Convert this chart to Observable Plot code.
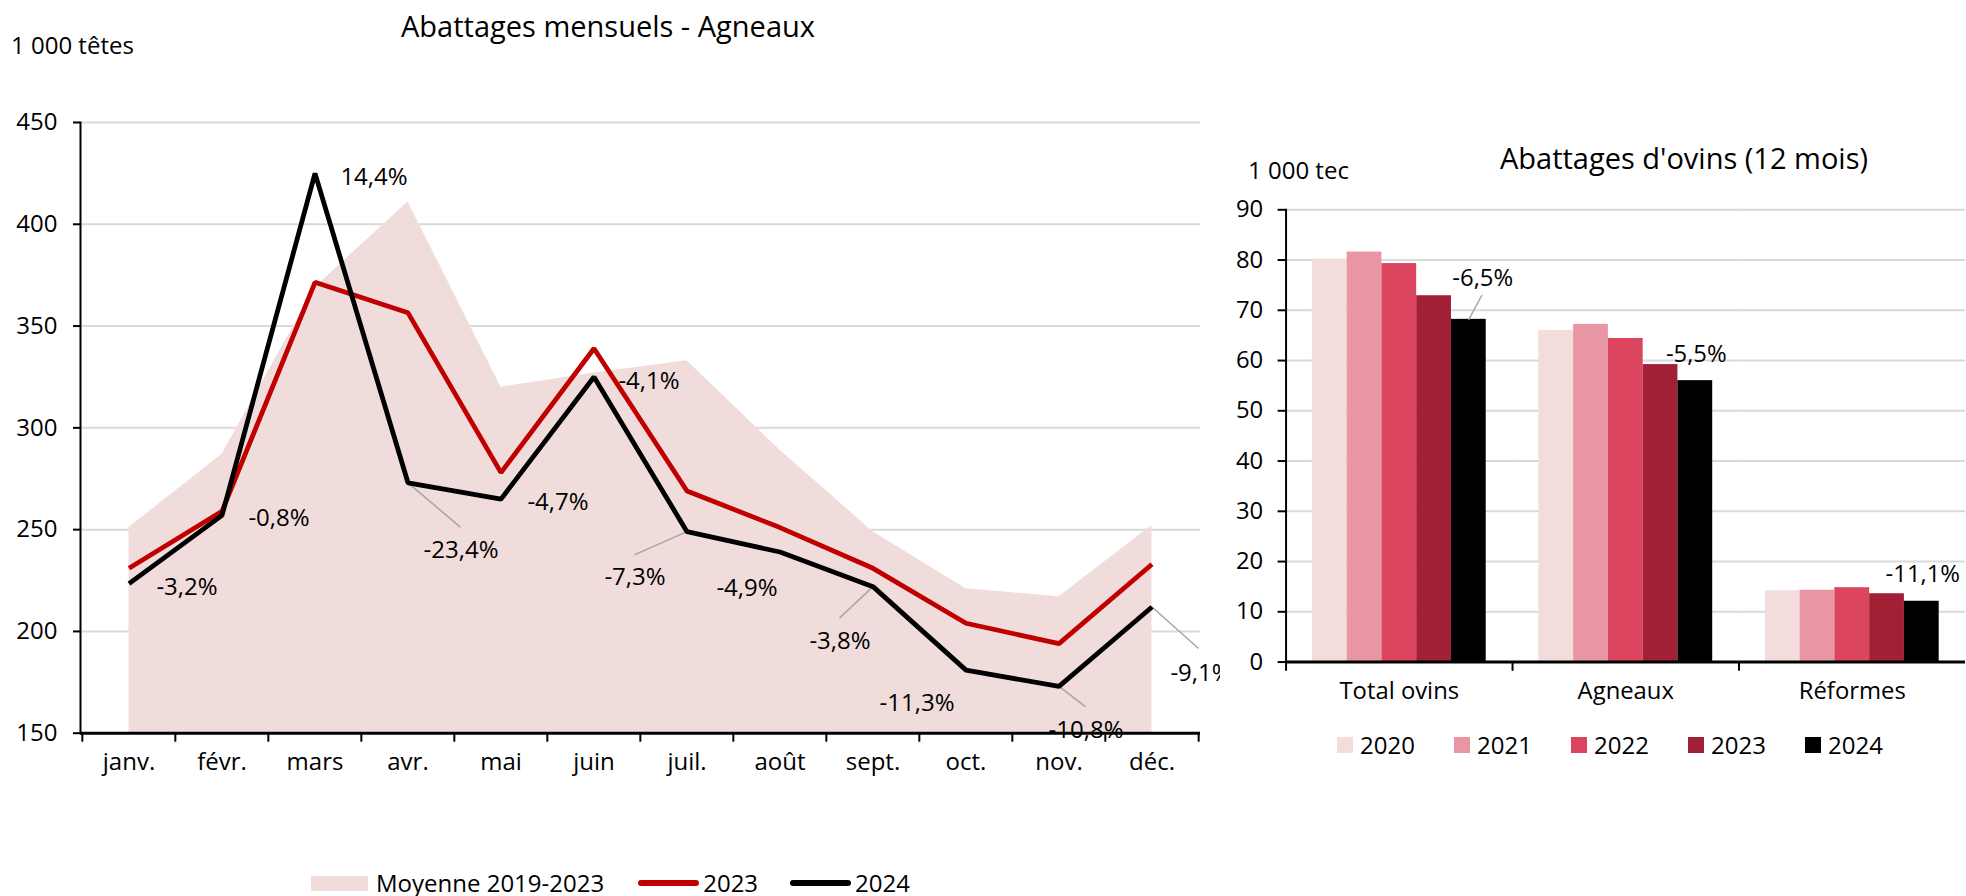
<!DOCTYPE html>
<html>
<head>
<meta charset="utf-8">
<script src="https://cdn.jsdelivr.net/npm/d3@7"></script>
<script src="https://cdn.jsdelivr.net/npm/@observablehq/plot@0.6"></script>
<style>
  html, body { margin: 0; padding: 0; background: #fff; }
  body { width: 1966px; height: 896px; overflow: hidden; position: relative; font-family: "Open Sans", sans-serif; color: #000; }
  .abs { position: absolute; white-space: nowrap; line-height: 1; }
  #left { position: absolute; left: 0; top: 0; }
  #right { position: absolute; left: 1220px; top: 0; background: #fff; }
  .leg { position: absolute; display: flex; align-items: center; font-size: 24px; line-height: 1; white-space: nowrap; }
</style>
</head>
<body>
<div id="left"></div>
<div id="right"></div>
<script>
// ---------- Data: monthly lamb slaughter (1 000 têtes) ----------
const months = ["janv.", "févr.", "mars", "avr.", "mai", "juin", "juil.", "août", "sept.", "oct.", "nov.", "déc."];
const moyenne = [251, 287, 369, 411, 320, 327, 333, 289, 249, 221, 217, 252];
const values2023 = [231, 259, 371.5, 356.5, 278, 339, 269, 251, 231, 204, 194, 233];
const values2024 = [223.5, 257, 425, 273, 265, 325, 249, 239, 222, 181, 173, 212];
const evolLabels = ["-3,2%", "-0,8%", "14,4%", "-23,4%", "-4,7%", "-4,1%", "-7,3%", "-4,9%", "-3,8%", "-11,3%", "-10,8%", "-9,1%"];
const yTicksLeft = [150, 200, 250, 300, 350, 400, 450];

// ---------- Data: sheep slaughter 12 months (1 000 tec) ----------
const categories = ["Total ovins", "Agneaux", "Réformes"];
const years = ["2020", "2021", "2022", "2023", "2024"];
const totalOvins = [80.2, 81.6, 79.3, 72.9, 68.2];
const agneaux = [66.0, 67.2, 64.4, 59.2, 56.0];
const reformes = [14.2, 14.3, 14.8, 13.6, 12.1];
const barLabels = ["-6,5%", "-5,5%", "-11,1%"];
const yTicksRight = [0, 10, 20, 30, 40, 50, 60, 70, 80, 90];

// ---------- Styles / layout ----------
const avgFill = "#f1dcdc";
const red = "#c00000";
const gridColor = "#d9d9d9";
const leaderColor = "#a6a6a6";
const barColors = ["#f2dcdc", "#e996a4", "#db455e", "#a12036", "#000000"];
const FS = 24;

// label offsets (px) relative to the 2024 point, and leader-line ends
const labelOffsets = [[58, 4], [57, 3], [59, 4], [53, 67], [57, 3], [55, 4], [-52, 46], [-33, 36], [-33, 55], [-49, 33], [27, 44], [49, 66]];
const leaderEnds = {3: [52, 44], 6: [-52, 23], 8: [-33, 31], 10: [26, 20], 11: [46, 41]};
const barLabelOffsets = [[14, -41], [1, -26], [1, -27]];
const barLeaderEnds = {0: [13, -24]};

const lineShape = {draw(ctx, l) { ctx.moveTo(0, 0); ctx.lineTo(0, -l); }};
function leader(data, x, y, end, extra = {}) {
  const [dx, dy] = end;
  return Plot.vector(data, {
    x, y, ...extra,
    length: Math.hypot(dx, dy),
    rotate: Math.atan2(dx, -dy) * 180 / Math.PI,
    anchor: "start", shape: lineShape,
    stroke: leaderColor, strokeWidth: 1.5
  });
}

// ---------- Left chart ----------
const W1 = 1230, H1 = 800, mL1 = 80, mR1 = 30, mT1 = 122, mB1 = H1 - 732.7;
const step1 = (W1 - mL1 - mR1) / months.length;
const lineData = months.map((m, i) => ({month: m, avg: moyenne[i], v23: values2023[i], v24: values2024[i], lab: evolLabels[i]}));

const leftMarks = [
  Plot.gridY(yTicksLeft.filter(t => t > 150), {stroke: gridColor, strokeOpacity: 1, strokeWidth: 2}),
  Plot.areaY(lineData, {x: "month", y1: 150, y2: "avg", fill: avgFill}),
  Plot.ruleY([150], {stroke: "#000", strokeWidth: 3}),
  Plot.frame({anchor: "left", stroke: "#000", strokeWidth: 2}),
  Plot.axisY({ticks: yTicksLeft, tickSize: 7, tickPadding: 16, fontSize: FS, strokeWidth: 2, tickFormat: d => d, label: null}),
  Plot.axisX({ticks: months, tickSize: 9, tickFormat: () => "", dx: -step1 / 2, strokeWidth: 2, label: null}),
  Plot.axisX({ticks: [months[months.length - 1]], tickSize: 9, tickFormat: () => "", dx: step1 / 2, strokeWidth: 2, label: null}),
  Plot.text(months, {x: d => d, frameAnchor: "bottom", dy: 37, fontSize: FS}),
];
Object.entries(leaderEnds).forEach(([i, end]) => {
  leftMarks.push(leader([lineData[+i]], "month", "v24", end));
});
leftMarks.push(
  Plot.line(lineData, {x: "month", y: "v23", stroke: red, strokeWidth: 4.8, strokeLinejoin: "miter", strokeLinecap: "butt"}),
  Plot.line(lineData, {x: "month", y: "v24", stroke: "#000", strokeWidth: 4.8, strokeLinejoin: "miter", strokeLinecap: "butt"})
);
lineData.forEach((d, i) => {
  leftMarks.push(Plot.text([d], {x: "month", y: "v24", text: "lab", dx: labelOffsets[i][0], dy: labelOffsets[i][1], fontSize: FS}));
});

const left = Plot.plot({
  width: W1, height: H1,
  marginLeft: mL1, marginRight: mR1, marginTop: mT1, marginBottom: mB1,
  style: {fontFamily: "Open Sans", fontSize: FS + "px", color: "#000", background: "transparent", overflow: "visible"},
  x: {type: "band", domain: months, padding: 0, axis: null, label: null},
  y: {domain: [150, 450], axis: null, label: null},
  marks: leftMarks
});
document.getElementById("left").appendChild(left);

// ---------- Right chart ----------
const W2 = 751, H2 = 760, mL2 = 64.5, mT2 = 210.7, mB2 = H2 - 666;
const series = [totalOvins, agneaux, reformes];
const barData = categories.flatMap((c, ci) => years.map((y, yi) => ({cat: c, year: y, value: series[ci][yi]})));
const lastBars = categories.map((c, ci) => ({cat: c, year: years[years.length - 1], value: series[ci][years.length - 1], lab: barLabels[ci]}));

const rightMarks = [
  Plot.gridY(yTicksRight.filter(t => t > 0), {stroke: gridColor, strokeOpacity: 1, strokeWidth: 2}),
  Plot.barY(barData, {fx: "cat", x: "year", y: "value", fill: "year"}),
  Plot.ruleY([0], {stroke: "#000", strokeWidth: 3}),
  Plot.frame({anchor: "left", facetAnchor: "left", stroke: "#000", strokeWidth: 2}),
  Plot.axisY({ticks: yTicksRight, tickSize: 8, tickPadding: 15, fontSize: FS, strokeWidth: 2, tickFormat: d => d, label: null}),
  Plot.vector(categories, {fx: d => d, frameAnchor: "bottom-left", length: 8, rotate: 180, anchor: "start", shape: lineShape, stroke: "#000", strokeWidth: 2}),
  Plot.text(categories, {fx: d => d, text: d => d, frameAnchor: "bottom", dy: 37, fontSize: FS}),
];
Object.entries(barLeaderEnds).forEach(([i, end]) => {
  rightMarks.push(leader([lastBars[+i]], "year", "value", end, {fx: "cat"}));
});
lastBars.forEach((d, i) => {
  rightMarks.push(Plot.text([d], {fx: "cat", x: "year", y: "value", text: "lab", dx: barLabelOffsets[i][0], dy: barLabelOffsets[i][1], fontSize: FS}));
});

const right = Plot.plot({
  width: W2, height: H2,
  marginLeft: mL2, marginRight: 0, marginTop: mT2, marginBottom: mB2,
  style: {fontFamily: "Open Sans", fontSize: FS + "px", color: "#000", background: "#fff"},
  fx: {domain: categories, paddingInner: 0, paddingOuter: 0, axis: null, label: null},
  x: {domain: years, paddingInner: 0, paddingOuter: 0.746, axis: null, label: null},
  y: {domain: [0, 90], axis: null, label: null},
  color: {domain: years, range: barColors},
  marks: rightMarks
});
document.getElementById("right").appendChild(right);

// ---------- Titles, units, legends ----------
function place(text, x, y, size, anchor = "start") {
  const d = document.createElement("div");
  d.className = "abs";
  d.textContent = text;
  d.style.fontSize = size + "px";
  d.style.left = x + "px";
  d.style.top = y + "px";
  d.style.transform = `translate(${anchor === "middle" ? "-50%" : "0"}, -50%)`;
  document.body.appendChild(d);
}
place("Abattages mensuels - Agneaux", 608, 25, 29, "middle");
place("1 000 têtes", 11, 45, 24);
place("Abattages d'ovins (12 mois)", 1684, 157, 29, "middle");
place("1 000 tec", 1248, 170, 24);

// left legend
const legL = document.createElement("div");
legL.className = "leg";
legL.style.left = "311px";
legL.style.top = (883 - 12) + "px";
legL.style.height = "24px";
const legItems = [
  {label: "Moyenne 2019-2023", swatch: `<span style="display:inline-block;width:57px;height:15px;background:${avgFill};margin-right:8px"></span>`},
  {label: "2023", swatch: `<span style="display:inline-block;width:61px;height:6px;border-radius:3px;background:${red};margin-right:4px"></span>`},
  {label: "2024", swatch: `<span style="display:inline-block;width:61px;height:6px;border-radius:3px;background:#000;margin-right:4px"></span>`}
];
legL.innerHTML = legItems.map((it, i) => `<span style="display:flex;align-items:center;margin-right:${i === 0 ? 34 : 32}px">${it.swatch}<span>${it.label}</span></span>`).join("");
document.body.appendChild(legL);

// right legend
const legR = document.createElement("div");
legR.className = "leg";
legR.style.left = "1337px";
legR.style.top = (745 - 12) + "px";
legR.style.height = "24px";
legR.innerHTML = years.map((y, i) => `<span style="display:flex;align-items:center;width:117px"><span style="display:inline-block;width:16px;height:16px;background:${barColors[i]};margin-right:7px"></span><span>${y}</span></span>`).join("");
document.body.appendChild(legR);
</script>
</body>
</html>
